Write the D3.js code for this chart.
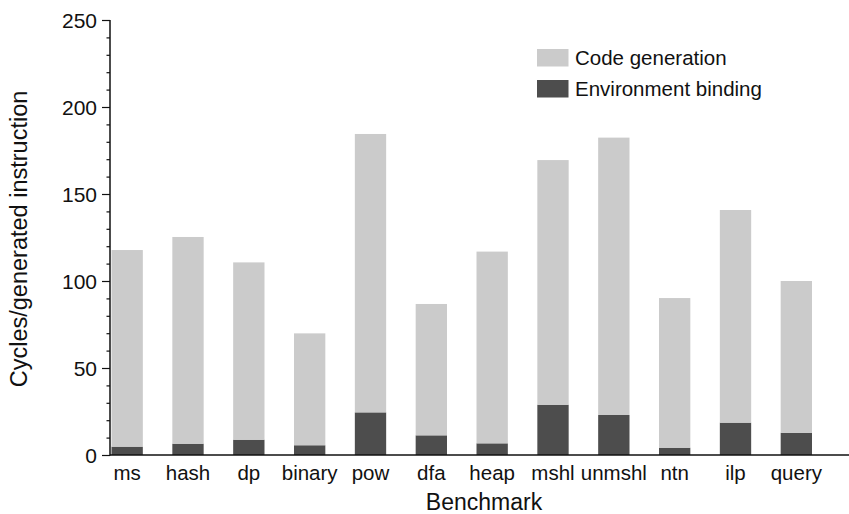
<!DOCTYPE html>
<html>
<head>
<meta charset="utf-8">
<script src="https://cdn.jsdelivr.net/npm/d3@7/dist/d3.min.js"></script>
<style>
  html, body { margin: 0; padding: 0; background: #fff; }
  svg { display: block; }
  text { font-family: "Liberation Sans", Arial, Helvetica, sans-serif; fill: #111; }
</style>
</head>
<body>
<svg id="chart" width="849" height="514"></svg>
<script>
// Benchmarks on the x axis
const benchmarks = ["ms", "hash", "dp", "binary", "pow", "dfa", "heap", "mshl", "unmshl", "ntn", "ilp", "query"];
// Cycles per generated instruction spent binding the environment (bottom segment)
const envBinding = [4.8, 6.5, 8.8, 5.6, 24.5, 11.3, 6.7, 28.9, 23.0, 4.2, 18.6, 12.8];
// Cycles per generated instruction spent generating code (stacked on top)
const codeGen = [113.0, 118.8, 101.9, 64.3, 160.0, 75.5, 110.2, 140.6, 159.4, 86.0, 122.2, 87.2];
const seriesNames = ["Environment binding", "Code generation"];
const yTicks = [0, 50, 100, 150, 200, 250];
const yTitle = "Cycles/generated instruction";
const xTitle = "Benchmark";

const colors = { "Environment binding": "#4d4d4d", "Code generation": "#cbcbcb" };

const svg = d3.select("#chart");
const y0 = 455, yTop = 20, xLeft = 110, xRight = 849;

const y = d3.scaleLinear().domain([0, 250]).range([y0, yTop]);
const x = d3.scaleBand().domain(benchmarks).range([111.5, 812]).paddingInner(0.485).paddingOuter(0);

const rows = benchmarks.map((b, i) => ({ name: b, "Environment binding": envBinding[i], "Code generation": codeGen[i] }));
const stacked = d3.stack().keys(seriesNames)(rows);

// Stacked bars
svg.append("g").selectAll("g").data(stacked).join("g")
  .attr("fill", d => colors[d.key])
  .selectAll("rect").data(d => d).join("rect")
  .attr("x", d => x(d.data.name))
  .attr("width", x.bandwidth())
  .attr("y", d => y(d[1]))
  .attr("height", d => y(d[0]) - y(d[1]));

// Y axis: major ticks every 50, minor every 10
const yAxis = svg.append("g").attr("transform", `translate(${xLeft},0)`);
yAxis.call(d3.axisLeft(y).tickValues(d3.range(0, 251, 10).filter(v => v % 50 !== 0)).tickSize(3.5).tickFormat(""))
  .call(g => g.select(".domain").remove());
yAxis.append("g").call(d3.axisLeft(y).tickValues(yTicks).tickSize(8).tickFormat(""))
  .call(g => g.select(".domain").remove());
yAxis.selectAll(".tick line").attr("stroke", "#111").attr("stroke-width", 1.2);
yAxis.append("line").attr("x1", 0).attr("x2", 0).attr("y1", yTop).attr("y2", y0 + 0.5)
  .attr("stroke", "#111").attr("stroke-width", 1.5);

svg.append("g").selectAll("text").data(yTicks).join("text")
  .attr("x", 97).attr("y", d => y(d)).attr("dy", "0.36em")
  .attr("text-anchor", "end")
  .style("font-size", "21px")
  .text(d => d);

// X axis baseline
svg.append("line").attr("x1", xLeft).attr("x2", xRight).attr("y1", y0).attr("y2", y0)
  .attr("stroke", "#111").attr("stroke-width", 1.5);

svg.append("g").selectAll("text").data(benchmarks).join("text")
  .attr("x", d => x(d) + x.bandwidth() / 2).attr("y", 480)
  .attr("text-anchor", "middle")
  .style("font-size", "20.5px")
  .text(d => d);

// Axis titles
svg.append("text").attr("x", 484).attr("y", 510).attr("text-anchor", "middle")
  .style("font-size", "23px").text(xTitle);
svg.append("text").attr("transform", "translate(27,239) rotate(-90)").attr("text-anchor", "middle")
  .style("font-size", "23.5px").text(yTitle);

// Legend
const legendItems = ["Code generation", "Environment binding"];
const legend = svg.append("g").selectAll("g").data(legendItems).join("g")
  .attr("transform", (d, i) => `translate(537,${49 + i * 31})`);
legend.append("rect").attr("width", 31.5).attr("height", 17.5).attr("fill", d => colors[d]);
legend.append("text").attr("x", 38).attr("y", 15.5)
  .style("font-size", "20.5px").text(d => d);
</script>
</body>
</html>
